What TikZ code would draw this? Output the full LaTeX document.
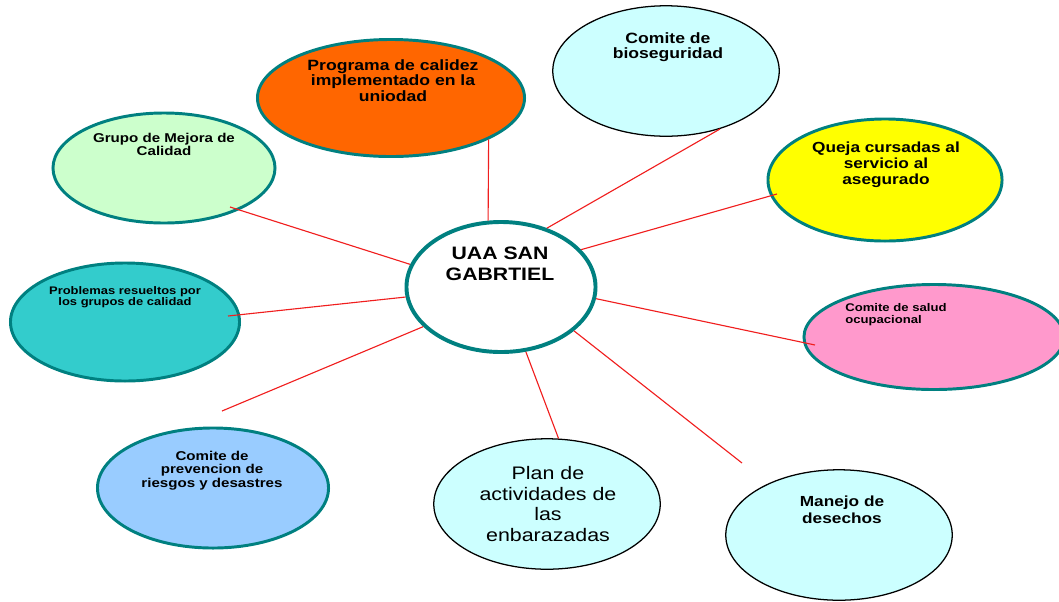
\documentclass[tikz,border=0pt]{standalone}
\usepackage{fontspec}
\setmainfont{Liberation Sans}
\usepackage{tikz}
\usetikzlibrary{positioning,shapes.geometric}

\definecolor{tealline}{RGB}{0,128,128}
\definecolor{spokered}{RGB}{240,30,30}
\definecolor{orangefill}{RGB}{255,102,0}
\definecolor{cyanfill}{RGB}{204,255,255}
\definecolor{yellowfill}{RGB}{255,255,0}
\definecolor{greenfill}{RGB}{204,255,204}
\definecolor{tealfill}{RGB}{51,204,204}
\definecolor{pinkfill}{RGB}{255,153,204}
\definecolor{bluefill}{RGB}{153,204,255}
\lineskiplimit=-\maxdimen

\tikzset{
  bubble/.style={draw=tealline, line width=2.1pt, ellipse, inner sep=0pt},
  palebubble/.style={draw=black, line width=0.9pt, ellipse, inner sep=0pt, fill=cyanfill},
  btext/.style={align=center, inner sep=0pt, anchor=north, xscale=1.18, text=black},
  spoke/.style={draw=spokered, line width=0.8pt}
}

\begin{document}
\begin{tikzpicture}[x=0.025cm, y=-0.025cm]

	% \draw[help lines, step=40,gray!20] (0,0) grid (1059,601);
	\useasboundingbox (0,0) rectangle (1059,601);

	\node[bubble,
	fill=white,
	line width=2.8pt,
	minimum width=4.725cm,
	minimum height=3.25cm] (CENTER) at (501,287) {};

	\node[bubble,
	fill=orangefill,
	minimum width=6.675cm,
	minimum height=2.925cm] (E1) at (391,98) {};

	\node[palebubble,
	minimum width=5.66cm,
	minimum height=3.26cm] (E2) at (666,71) {};

	\node[bubble,
	fill=yellowfill,
	minimum width=5.85cm,
	minimum height=3.05cm] (E3) at (885,180) {};

	\node[bubble,
	fill=greenfill,
	minimum width=5.55cm,
	minimum height=2.75cm] (E4) at (164,168) {};

	\node[bubble,
	fill=tealfill,
	minimum width=5.725cm,
	minimum height=2.95cm] (E5) at (125,322) {};

	\node[bubble,
	fill=pinkfill,
	minimum width=6.5cm,
	minimum height=2.625cm] (E6) at (934,337) {};

	\node[bubble,
	fill=bluefill,
	minimum width=5.775cm,
	minimum height=3.0cm] (E7) at (213,488) {};

	\node[palebubble,
	minimum width=5.66cm,
	minimum height=3.26cm] (E8) at (547,504) {};

	\node[palebubble,
	minimum width=5.66cm,
	minimum height=3.26cm] (E9) at (839,535) {};

	% texts
	\node[btext, font=\bfseries\fontsize{12.8}{14.9}\selectfont] (T0) at (500,247) {UAA SAN\\GABRTIEL};
	\node[btext, font=\bfseries\fontsize{10.6}{11.1}\selectfont] (T1) at (393,59) {Programa de calidez\\implementado en la\\uniodad};
	\node[btext, font=\bfseries\fontsize{10.6}{11.1}\selectfont] (T2) at (668,32) {Comite de\\bioseguridad};
	\node[btext, font=\bfseries\fontsize{10.4}{11.1}\selectfont] (T3) at (886,142) {Queja cursadas al\\servicio al\\asegurado};
	\node[btext, font=\bfseries\fontsize{9.1}{9.45}\selectfont] (T4) at (164,133) {Grupo de Mejora de\\Calidad};
	\node[btext, font=\bfseries\fontsize{7.8}{8.0}\selectfont] (T5) at (125,286) {Problemas resueltos por\\los grupos de calidad};
	\node[btext, align=left, anchor=north west, font=\bfseries\fontsize{7.9}{8.7}\selectfont] (T6) at (845,303) {Comite de salud\\ocupacional};
	\node[btext, font=\bfseries\fontsize{9.1}{9.45}\selectfont] (T7) at (212,451) {Comite de\\prevencion de\\riesgos y desastres};
	\node[btext, font=\fontsize{12.9}{14.7}\selectfont] (T8) at (548,466) {Plan de\\actividades de\\las\\enbarazadas};
	\node[btext, font=\bfseries\fontsize{10.4}{11.8}\selectfont] (T9) at (842,496) {Manejo de\\desechos};

	% free ends of the spokes
	\coordinate (P3) at (777,194);
	\coordinate (P4) at (230,207);
	\coordinate (P5) at (228,316);
	\coordinate (P6) at (815,345);
	\coordinate (P7) at (222,411);
	\coordinate (P9) at (742,463);

	\draw[spoke] (CENTER.101) -- (E1.-23);
	\draw[spoke] (CENTER.52) -- (E2.-47);
	\draw[spoke] (CENTER.25) -- (P3);
	\draw[spoke] (CENTER.166) -- (P4);
	\draw[spoke] (CENTER.186) -- (P5);
	\draw[spoke] (CENTER.-7) -- (P6);
	\draw[spoke] (CENTER.207) -- (P7);
	\draw[spoke] (CENTER.-69) -- (E8.80);
	\draw[spoke] (CENTER.-31) -- (P9);

\end{tikzpicture}
\end{document}
